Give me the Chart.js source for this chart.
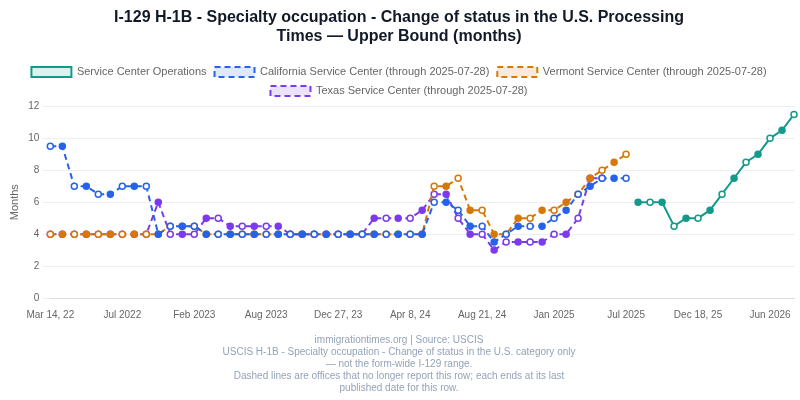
<!DOCTYPE html>
<html><head><meta charset="utf-8">
<script src="https://cdn.jsdelivr.net/npm/chart.js@4"></script>
<style>html,body{margin:0;background:#fff}#w{width:800px;height:400px}</style>
</head><body><div id="w"><canvas id="c"></canvas></div>
<script>
const N = 63;
const tickLabels = {0:"Mar 14, 22",6:"Jul 2022",12:"Feb 2023",18:"Aug 2023",24:"Dec 27, 23",30:"Apr 8, 24",36:"Aug 21, 24",42:"Jan 2025",48:"Jul 2025",54:"Dec 18, 25",60:"Jun 2026"};
const labels = Array.from({length:N},(_, i)=>tickLabels[i]||("#"+i));
const california = [9.5,9.5,7,7,6.5,6.5,7,7,7,4,4.5,4.5,4.5,4,4,4,4,4,4,4,4,4,4,4,4,4,4,4,4,4,4,4,6,6,5.5,4.5,4.5,3.5,4,4.5,4.5,4.5,5,5.5,6.5,7,7.5,7.5,7.5];
const vermont = [4,4,4,4,4,4,4,4,4,4,4.5,4.5,4.5,4,4,4,4,4,4,4,4,4,4,4,4,4,4,4,4,4,4,4,7,7,7.5,5.5,5.5,4,4,5,5,5.5,5.5,6,6.5,7.5,8,8.5,9];
const texas = [4,4,4,4,4,4,4,4,4,6,4,4,4,5,5,4.5,4.5,4.5,4.5,4.5,4,4,4,4,4,4,4,5,5,5,5,5.5,6.5,6.5,5,4,4,3,3.5,3.5,3.5,3.5,4,4,5,7.5,7.5];
const serviceCenterOps = Array(49).fill(null).concat([6,6,6,4.5,5,5,5.5,6.5,7.5,8.5,9,10,10.5,11.5]);
const F = 'Liberation Sans, Arial';
function ds(label,data,color,fill,dash){
  return {label,data,borderColor:color,backgroundColor:fill,borderDash:dash,borderWidth:2,
    pointRadius:3,pointBorderWidth:1.5,pointBorderColor:color,
    pointBackgroundColor:c=>c.dataIndex%2?color:'#fff',tension:0,spanGaps:false};
}
new Chart(document.getElementById('c'),{type:'line',
data:{labels,datasets:[
  ds('Service Center Operations',serviceCenterOps,'#149a8a','rgba(20,154,138,0.15)',[]),
  ds('California Service Center (through 2025-07-28)',california,'#2563eb','rgba(37,99,235,0.15)',[6,4]),
  ds('Vermont Service Center (through 2025-07-28)',vermont,'#d97706','rgba(217,119,6,0.15)',[6,4]),
  ds('Texas Service Center (through 2025-07-28)',texas,'#7c3aed','rgba(124,58,237,0.15)',[6,4])
]},
options:{responsive:true,maintainAspectRatio:false,animation:false,
 layout:{padding:{left:4,right:6}},
 plugins:{
  title:{display:true,text:['I-129 H-1B - Specialty occupation - Change of status in the U.S. Processing','Times — Upper Bound (months)'],color:'#111827',font:{family:F,size:16,weight:'bold'},padding:{top:8,bottom:12}},
  legend:{labels:{color:'#666',font:{family:F,size:11},boxWidth:40,boxHeight:10,padding:8}},
  subtitle:{display:true,position:'bottom',text:['immigrationtimes.org | Source: USCIS','USCIS H-1B - Specialty occupation - Change of status in the U.S. category only','— not the form-wide I-129 range.','Dashed lines are offices that no longer report this row; each ends at its last','published date for this row.'],color:'#94a3b8',font:{family:F,size:10,lineHeight:1.2},padding:{top:10,bottom:6}},
  tooltip:{enabled:false}
 },
 scales:{
  x:{grid:{display:false},border:{color:'#ddd'},ticks:{autoSkip:false,maxRotation:0,color:'#666',font:{family:F,size:10},callback:(v,i)=>tickLabels[i]||null}},
  y:{min:0,max:12,ticks:{stepSize:2,color:'#666',font:{family:F,size:10}},grid:{color:'#eee'},border:{display:false},title:{display:true,text:'Months',color:'#666',font:{family:F,size:11}}}
 }}
});
</script></body></html>
